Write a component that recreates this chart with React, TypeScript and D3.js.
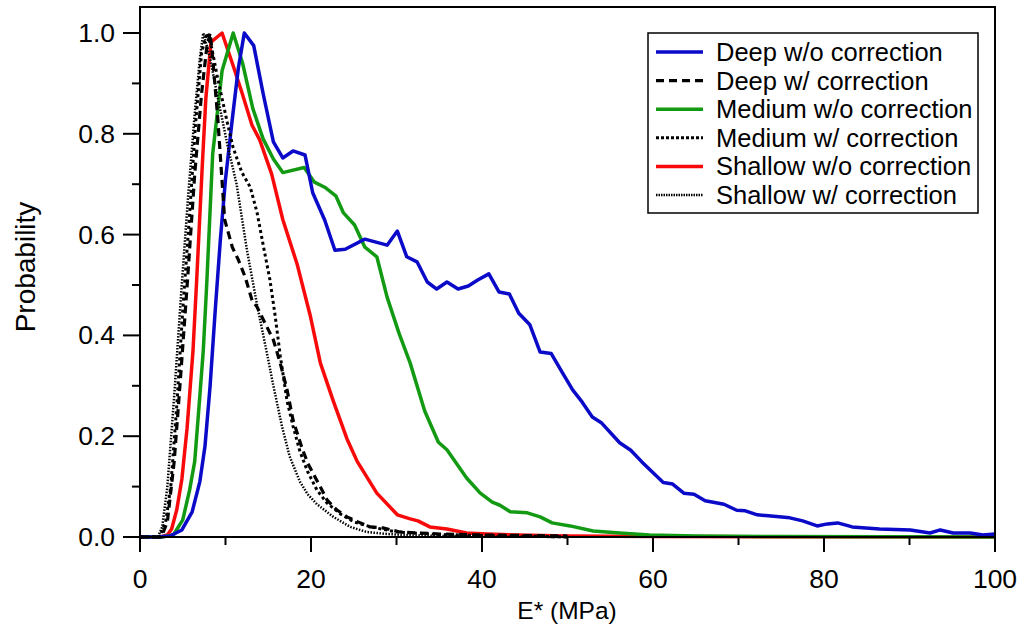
import React from "react";
import * as d3 from "d3";

// E* (MPa) vs normalised probability
const deepRaw: [number, number][] = [
  [0, 0], [2, 0], [3.5, 0.002], [4.9, 0.014], [6.1, 0.05], [7.0, 0.11], [7.6, 0.18], [8.2, 0.3],
  [8.8, 0.45], [9.4, 0.59], [10.0, 0.71], [10.8, 0.83], [11.5, 0.93], [12.2, 1.0], [13.3, 0.975],
  [14.4, 0.88], [15.6, 0.784], [16.7, 0.752], [17.9, 0.766], [19.3, 0.758], [20.2, 0.683],
  [21.6, 0.629], [22.8, 0.569], [24.0, 0.571], [26.3, 0.591], [28.9, 0.579], [30.1, 0.607],
  [31.2, 0.556], [32.4, 0.546], [33.6, 0.506], [34.7, 0.492], [35.9, 0.506], [37.2, 0.492],
  [38.4, 0.498], [39.5, 0.51], [40.8, 0.522], [42.0, 0.486], [43.2, 0.482], [44.3, 0.444],
  [45.6, 0.421], [46.8, 0.367], [48.1, 0.364], [49.4, 0.326], [50.6, 0.292], [51.7, 0.268],
  [52.9, 0.238], [54.0, 0.226], [56.1, 0.187], [57.4, 0.172], [58.7, 0.149], [61.2, 0.108],
  [62.3, 0.105], [63.6, 0.087], [64.8, 0.085], [66.1, 0.072], [68.3, 0.065], [69.8, 0.053],
  [70.8, 0.052], [72.2, 0.044], [73.5, 0.042], [76.0, 0.038], [77.5, 0.032], [79.2, 0.022],
  [80.4, 0.026], [81.6, 0.028], [83.3, 0.02], [86.5, 0.016], [90.1, 0.014], [92.4, 0.008],
  [93.6, 0.014], [95.1, 0.008], [97.1, 0.008], [98.6, 0.004], [100, 0.006],
];
const deepCorr: [number, number][] = [
  [0, 0], [2.5, 0], [3.2, 0.03], [4.0, 0.15], [4.8, 0.33], [5.6, 0.52], [6.4, 0.72], [7.2, 0.88],
  [7.8, 0.97], [8.2, 1.0], [8.5, 0.95], [9.1, 0.83], [9.9, 0.63], [10.8, 0.575], [11.5, 0.55],
  [12.3, 0.516], [13.1, 0.47], [13.7, 0.456], [14.6, 0.425], [15.6, 0.391], [16.4, 0.345],
  [17.2, 0.292], [17.9, 0.232], [18.9, 0.179], [19.6, 0.147], [21.1, 0.099], [21.9, 0.073],
  [23.0, 0.054], [24.2, 0.04], [25.5, 0.03], [26.9, 0.02], [28.4, 0.018], [30.4, 0.01],
  [32.4, 0.008], [35.1, 0.006], [40, 0.004], [45, 0.003], [50, 0.002],
];
const mediumRaw: [number, number][] = [
  [0, 0], [2.5, 0], [3.9, 0.004], [5.0, 0.034], [5.8, 0.093], [6.4, 0.15], [7.0, 0.28], [7.4, 0.37],
  [7.8, 0.5], [8.5, 0.76], [9.6, 0.925], [10.9, 1.0], [12.0, 0.94], [13.2, 0.85], [14.4, 0.79],
  [15.6, 0.75], [16.7, 0.723], [19.2, 0.733], [20.4, 0.704], [21.6, 0.694], [22.9, 0.677],
  [23.8, 0.643], [25.1, 0.619], [26.3, 0.575], [27.7, 0.556], [28.9, 0.476], [30.3, 0.404],
  [31.6, 0.345], [33.3, 0.25], [34.9, 0.188], [35.9, 0.173], [38.2, 0.117], [39.8, 0.087],
  [41.2, 0.069], [42.1, 0.063], [43.3, 0.05], [45.3, 0.048], [46.8, 0.04], [48.2, 0.028],
  [50.3, 0.022], [53.0, 0.012], [56.1, 0.008], [59.6, 0.004], [65, 0.002], [75, 0.001], [100, 0],
];
const mediumCorr: [number, number][] = [
  [0, 0], [2.3, 0], [3.0, 0.03], [3.6, 0.1], [4.3, 0.26], [5.0, 0.45], [5.8, 0.64], [6.5, 0.82],
  [7.2, 0.96], [7.8, 1.0], [8.4, 0.97], [9.0, 0.917], [10.2, 0.823], [10.9, 0.772], [11.9, 0.724],
  [12.9, 0.694], [13.7, 0.643], [14.4, 0.58], [15.2, 0.51], [15.8, 0.44], [16.4, 0.36],
  [17.2, 0.27], [17.9, 0.22], [18.7, 0.17], [19.6, 0.13], [20.7, 0.093], [21.9, 0.067],
  [23.5, 0.045], [25, 0.03], [27, 0.02], [30, 0.01], [35, 0.005], [40, 0.003], [45, 0.002], [50, 0],
];
const shallowRaw: [number, number][] = [
  [0, 0], [2.4, 0], [3.2, 0.004], [3.7, 0.016], [4.3, 0.054], [4.9, 0.115], [5.5, 0.215],
  [6.2, 0.37], [6.6, 0.5], [7.3, 0.742], [7.7, 0.87], [8.3, 0.982], [9.6, 1.0], [10.8, 0.94],
  [11.9, 0.883], [13.1, 0.817], [14.0, 0.788], [15.4, 0.72], [16.7, 0.63], [18.4, 0.54],
  [19.9, 0.44], [21.1, 0.345], [22.6, 0.27], [24.2, 0.195], [25.4, 0.15], [27.7, 0.087],
  [30.1, 0.044], [31.6, 0.036], [32.5, 0.032], [33.9, 0.02], [35.9, 0.016], [38.2, 0.008],
  [40.6, 0.006], [44.1, 0.004], [50, 0.002], [60, 0.001], [100, 0],
];
const shallowCorr: [number, number][] = [
  [0, 0], [2.1, 0], [2.6, 0.02], [3.2, 0.1], [4.0, 0.28], [4.8, 0.48], [5.6, 0.67], [6.4, 0.84],
  [7.0, 0.95], [7.4, 1.0], [8.2, 0.95], [9.0, 0.88], [10.2, 0.78], [11.3, 0.7], [12.5, 0.57],
  [13.7, 0.46], [14.9, 0.36], [15.6, 0.3], [16.6, 0.22], [17.5, 0.16], [18.7, 0.11], [19.6, 0.085],
  [20.7, 0.065], [22.6, 0.04], [24.6, 0.02], [26.5, 0.01], [28.9, 0.006], [32, 0.003], [40, 0.001],
  [50, 0],
];

const legendLabels = [
  "Deep w/o correction",
  "Deep w/ correction",
  "Medium w/o correction",
  "Medium w/ correction",
  "Shallow w/o correction",
  "Shallow w/ correction",
];
const xTicks = [0, 20, 40, 60, 80, 100];
const yTicks = [0, 0.2, 0.4, 0.6, 0.8, 1.0];

const BLUE = "#0a0ac8";
const GREEN = "#139a13";
const RED = "#f80a0a";

const series = [
  { label: legendLabels[0], data: deepRaw, color: BLUE, width: 3.5, dash: null as string | null, legendDash: null as string | null },
  { label: legendLabels[1], data: deepCorr, color: "#000", width: 3.2, dash: "8,5", legendDash: "8,5" },
  { label: legendLabels[2], data: mediumRaw, color: GREEN, width: 3.5, dash: null, legendDash: null },
  { label: legendLabels[3], data: mediumCorr, color: "#000", width: 3, dash: "3,3", legendDash: "3,2" },
  { label: legendLabels[4], data: shallowRaw, color: RED, width: 3.5, dash: null, legendDash: null },
  { label: legendLabels[5], data: shallowCorr, color: "#000", width: 2.5, dash: "1.5,1.5", legendDash: "1.5,1" },
];
// drawing order (bottom to top)
const drawOrder = [4, 2, 0, 1, 3, 5];

export default function App() {
  const W = 1024, H = 640;
  const m = { left: 140, right: 995, top: 7, bottom: 537 };

  const x = d3.scaleLinear().domain([0, 100]).range([m.left, m.right]);
  const y = d3.scaleLinear().domain([0, 1.0]).range([m.bottom, 33]);

  const line = d3.line<[number, number]>()
    .x(d => x(d[0]))
    .y(d => y(d[1]));

  const xMinor = d3.range(10, 100, 20);
  const yMinor = d3.range(0.1, 1.0, 0.2);
  const font = "'Liberation Sans', Arial, sans-serif";

  const legX = 648, legY = 33, legW = 330, legH = 180;
  const rowH = 28.6;

  return (
    <svg width={W} height={H} style={{ position: "absolute", left: 0, top: 0, background: "#fff" }}
      fontFamily={font}>
      <rect x={0} y={0} width={W} height={H} fill="#fff" />
      <defs>
        <clipPath id="plot">
          <rect x={m.left} y={m.top} width={m.right - m.left} height={m.bottom - m.top + 2} />
        </clipPath>
      </defs>

      <g clipPath="url(#plot)" fill="none" strokeLinejoin="round">
        {drawOrder.map(i => {
          const s = series[i];
          return (
            <path key={s.label} d={line(s.data) || ""} stroke={s.color}
              strokeWidth={s.width} strokeDasharray={s.dash || undefined} />
          );
        })}
      </g>

      {/* frame */}
      <rect x={m.left} y={m.top} width={m.right - m.left} height={m.bottom - m.top}
        fill="none" stroke="#000" strokeWidth={2} />

      {/* x axis ticks */}
      {xTicks.map(t => (
        <g key={"xt" + t}>
          <line x1={x(t)} x2={x(t)} y1={m.bottom} y2={m.bottom + 15} stroke="#000" strokeWidth={2} />
          <text x={x(t)} y={588} textAnchor="middle" fontSize={26.5}>{t}</text>
        </g>
      ))}
      {xMinor.map(t => (
        <line key={"xm" + t} x1={x(t)} x2={x(t)} y1={m.bottom} y2={m.bottom + 8} stroke="#000" strokeWidth={2} />
      ))}

      {/* y axis ticks */}
      {yTicks.map(t => (
        <g key={"yt" + t}>
          <line x1={m.left - 17} x2={m.left} y1={y(t)} y2={y(t)} stroke="#000" strokeWidth={2} />
          <text x={115} y={y(t) + 9} textAnchor="end" fontSize={26.5}>{t.toFixed(1)}</text>
        </g>
      ))}
      {yMinor.map(t => (
        <line key={"ym" + t} x1={m.left - 8} x2={m.left} y1={y(t)} y2={y(t)} stroke="#000" strokeWidth={2} />
      ))}

      <text x={567} y={619} textAnchor="middle" fontSize={24.5}>E* (MPa)</text>
      <text transform={`translate(35,${(m.top + m.bottom) / 2 - 5}) rotate(-90)`} textAnchor="middle" fontSize={28}>
        Probability
      </text>

      {/* legend */}
      <rect x={legX} y={legY} width={legW} height={legH} fill="#fff" stroke="#000" strokeWidth={1.5} />
      {series.map((s, i) => {
        const cy = legY + 19 + i * rowH;
        return (
          <g key={"lg" + i}>
            <line x1={656} x2={703} y1={cy} y2={cy} stroke={s.color}
              strokeWidth={s.width} strokeDasharray={s.legendDash || undefined} />
            <text x={716} y={cy + 9} fontSize={25.5}>{s.label}</text>
          </g>
        );
      })}
    </svg>
  );
}
